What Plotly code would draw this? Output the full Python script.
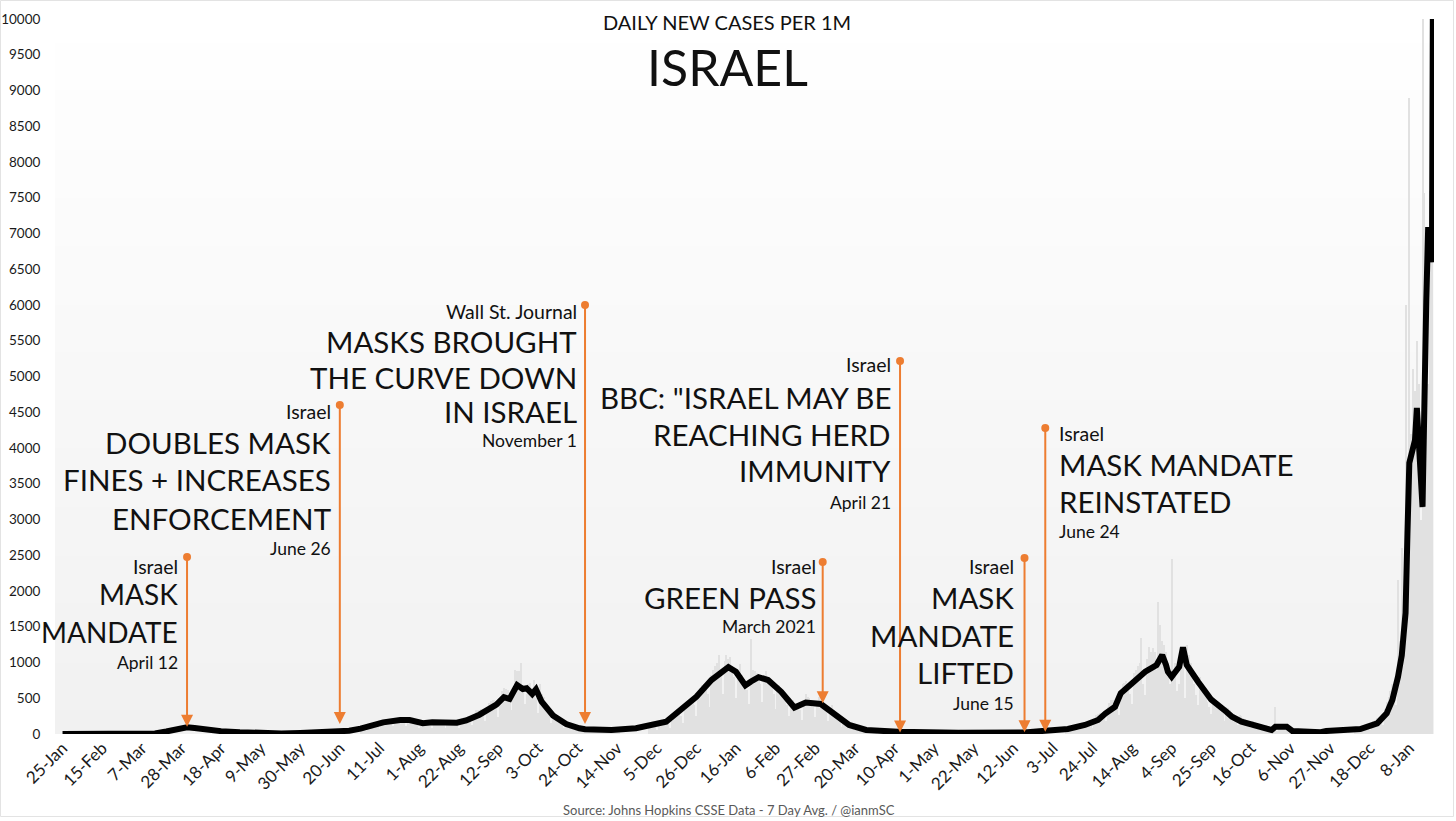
import plotly.graph_objects as go
import pandas as pd

# ---------------- DATA ----------------
# 7-day average of daily new cases per 1M (black line)
avg_dates = [
    "2020-01-25", "2020-02-15", "2020-03-07", "2020-03-14", "2020-03-20", "2020-03-26",
    "2020-03-31", "2020-04-04", "2020-04-10", "2020-04-18", "2020-04-28", "2020-05-09",
    "2020-05-20", "2020-05-30", "2020-06-10", "2020-06-20", "2020-06-25", "2020-07-01",
    "2020-07-04", "2020-07-13", "2020-07-22", "2020-07-27", "2020-08-03", "2020-08-08",
    "2020-08-21", "2020-08-26", "2020-09-02", "2020-09-11", "2020-09-15", "2020-09-18",
    "2020-09-22", "2020-09-25", "2020-09-27", "2020-09-30", "2020-10-02", "2020-10-05",
    "2020-10-11", "2020-10-18", "2020-10-25", "2020-10-28", "2020-11-11", "2020-11-24",
    "2020-12-10", "2020-12-17", "2020-12-26", "2021-01-03", "2021-01-12", "2021-01-16",
    "2021-01-21", "2021-01-24", "2021-01-28", "2021-02-02", "2021-02-09", "2021-02-16",
    "2021-02-22", "2021-03-02", "2021-03-10", "2021-03-17", "2021-03-26", "2021-04-12",
    "2021-05-14", "2021-06-18", "2021-06-29", "2021-07-11", "2021-07-20", "2021-07-27",
    "2021-07-31", "2021-08-05", "2021-08-08", "2021-08-10", "2021-08-14", "2021-08-16",
    "2021-08-21", "2021-08-27", "2021-08-30", "2021-09-01", "2021-09-02", "2021-09-04",
    "2021-09-08", "2021-09-10", "2021-09-12", "2021-09-18", "2021-09-25", "2021-10-03",
    "2021-10-06", "2021-10-11", "2021-10-20", "2021-10-27", "2021-10-29", "2021-11-04",
    "2021-11-07", "2021-11-22", "2021-11-25", "2021-12-13", "2021-12-22", "2021-12-27",
    "2021-12-30", "2021-12-31", "2022-01-01", "2022-01-02", "2022-01-03", "2022-01-04",
    "2022-01-05", "2022-01-06", "2022-01-07", "2022-01-08", "2022-01-11", "2022-01-12",
    "2022-01-15", "2022-01-16", "2022-01-17", "2022-01-18", "2022-01-20", "2022-01-21",
]
avg_values = [
    0, 0, 2, 8, 35, 75,
    95, 85, 60, 40, 25, 12,
    8, 15, 25, 40, 45, 75,
    100, 163, 196, 196, 150, 163,
    158, 190, 270, 410, 515, 490,
    685, 630, 640, 560, 625, 452,
    260, 140, 80, 66, 56, 80,
    172, 320, 520, 755, 935, 870,
    680, 735, 795, 755, 590, 370,
    440, 420, 266, 126, 56, 30,
    18, 20, 46, 70, 126, 196,
    289, 382, 570, 615, 732, 755,
    871, 965, 1105, 965, 871, 801,
    941, 1212, 965, 732, 480, 312,
    242, 172, 102, 56, 102, 102,
    42, 24, 42, 70, 150, 289,
    475, 560, 657, 800, 950, 1100,
    1400, 1692, 2800, 3790, 4110, 4560,
    3175, 5000, 6070, 7090, 6600, 14000,
]

# Raw daily values (light grey bars), four visible stretches
daily1_start = "2020-07-01"
daily1 = [
    90, 100, 70, 40, 110, 130, 140,
    150, 160, 120, 70, 170, 200, 210,
    200, 210, 170, 110, 200, 230, 230,
    220, 230, 180, 110, 210, 230, 220,
    190, 200, 150, 80, 160, 190, 180,
    180, 190, 150, 80, 170, 190, 190,
    180, 180, 140, 80, 170, 200, 190,
    180, 190, 150, 90, 190, 230, 240,
    240, 250, 200, 120, 260, 330, 340,
    340, 350, 280, 180, 350, 440, 460,
    470, 480, 400, 240, 480, 600, 640,
    630, 620, 500, 330, 620, 900, 880,
    880, 1000, 600, 420, 560, 700, 720,
    650, 760, 500, 300, 700, 560, 520,
    400, 360, 280, 160, 300, 300, 260,
    220, 200, 160, 80, 170, 160, 150,
    120, 110, 90, 50, 90, 100, 90,
    80, 80, 70, 40, 70, 80, 80,
    70, 70, 60, 30, 60, 70, 70,
    70, 70, 60, 30, 60,
]
daily2_start = "2020-12-01"
daily2 = [
    110, 120, 130, 110, 60, 120, 150,
    170, 180, 180, 150, 90, 180, 220,
    260, 280, 300, 250, 150, 330, 400,
    430, 460, 480, 400, 250, 530, 650,
    680, 700, 720, 560, 380, 820, 900,
    950, 1000, 1100, 820, 560, 1020, 1100,
    1050, 1080, 950, 800, 500, 900, 980,
    820, 780, 720, 620, 420, 1330, 900,
    880, 850, 820, 700, 450, 820, 880,
    800, 760, 700, 560, 350, 620, 680,
    600, 560, 500, 400, 250, 420, 470,
    440, 420, 400, 330, 200, 480, 560,
    520, 500, 460, 380, 240, 460, 520,
    480, 440, 400, 320, 180, 360, 400,
    330, 280, 240, 190, 100, 170, 180,
    150, 140, 120, 90, 50, 90, 100,
    80, 75, 70, 50, 30, 50, 60,
    50, 45,
]
daily3_start = "2021-07-10"
daily3 = [
    40, 80, 100, 110, 110, 100, 80,
    60, 130, 160, 170, 160, 150, 120,
    90, 220, 260, 280, 300, 280, 220,
    180, 380, 440, 470, 480, 450, 360,
    260, 600, 700, 720, 740, 700, 560,
    420, 850, 900, 950, 1000, 1340, 700,
    550, 1050, 1220, 1150, 1200, 1150, 900,
    1850, 1520, 1300, 1250, 1150, 800, 700,
    2450, 900, 1000, 600, 700, 1150, 1000,
    500, 1250, 1100, 1000, 900, 700, 550,
    400, 800, 700, 650, 550, 450, 380,
    280, 500, 480, 450, 400, 360, 300,
    180, 380, 360, 330, 300, 270, 220,
    130, 260, 250, 230, 210, 190, 150,
    90, 180, 170, 160, 150, 130, 100,
    60, 120, 110, 100, 90, 80, 380,
    40, 110, 100, 100, 95, 90, 70,
    30, 60, 55, 50, 50, 45, 35,
    20, 40, 45,
]
daily4_start = "2021-12-10"
daily4 = [
    50, 30, 70, 90, 100, 110, 110,
    90, 60, 150, 180, 200, 220, 240,
    200, 130, 350, 450, 520, 600, 700,
    600, 400, 2150, 1300, 2600, 1950, 6000,
    3500, 8900, 4200, 5100, 4800, 5500, 4900,
    3000, 10500, 7570, 6500, 4900, 7600, 10500,
]

# x-axis tick labels (every 21 days)
tick_dates = [
    "2020-01-25", "2020-02-15", "2020-03-07", "2020-03-28", "2020-04-18", "2020-05-09",
    "2020-05-30", "2020-06-20", "2020-07-11", "2020-08-01", "2020-08-22", "2020-09-12",
    "2020-10-03", "2020-10-24", "2020-11-14", "2020-12-05", "2020-12-26", "2021-01-16",
    "2021-02-06", "2021-02-27", "2021-03-20", "2021-04-10", "2021-05-01", "2021-05-22",
    "2021-06-12", "2021-07-03", "2021-07-24", "2021-08-14", "2021-09-04", "2021-09-25",
    "2021-10-16", "2021-11-06", "2021-11-27", "2021-12-18", "2022-01-08",
]
tick_labels = [
    "25-Jan", "15-Feb", "7-Mar", "28-Mar", "18-Apr", "9-May", "30-May", "20-Jun",
    "11-Jul", "1-Aug", "22-Aug", "12-Sep", "3-Oct", "24-Oct", "14-Nov", "5-Dec",
    "26-Dec", "16-Jan", "6-Feb", "27-Feb", "20-Mar", "10-Apr", "1-May", "22-May",
    "12-Jun", "3-Jul", "24-Jul", "14-Aug", "4-Sep", "25-Sep", "16-Oct", "6-Nov",
    "27-Nov", "18-Dec", "8-Jan",
]

# Event markers (orange arrows): date, top of arrow, tip of arrow
event_dates = ["2020-03-31", "2020-06-20", "2020-10-28", "2021-03-03",
               "2021-04-13", "2021-06-18", "2021-06-29"]
event_tops = [2475, 4600, 6000, 2405, 5217, 2461, 4280]
event_tips = [100, 140, 140, 430, 20, 25, 30]

# Event text blocks
event_texts = [
    [("Israel", "s"), ("MASK", "L"), ("MANDATE", "L"), ("April 12", "d")],
    [("Israel", "s"), ("DOUBLES MASK", "L"), ("FINES + INCREASES", "L"),
     ("ENFORCEMENT", "L"), ("June 26", "d")],
    [("Wall St. Journal", "s"), ("MASKS BROUGHT", "L"), ("THE CURVE DOWN", "L"),
     ("IN ISRAEL", "L"), ("November 1", "d")],
    [("Israel", "s"), ("GREEN PASS", "L"), ("March 2021", "d")],
    [("Israel", "s"), ("BBC: \"ISRAEL MAY BE", "L"), ("REACHING HERD", "L"),
     ("IMMUNITY", "L"), ("April 21", "d")],
    [("Israel", "s"), ("MASK", "L"), ("MANDATE", "L"), ("LIFTED", "L"), ("June 15", "d")],
    [("Israel", "s"), ("MASK MANDATE", "L"), ("REINSTATED", "L"), ("June 24", "d")],
]

# ---------------- LAYOUT HELPERS (pixel placement) ----------------
W, H = 1456, 821
PL, PR, PT, PB = 55, 1434, 19, 734   # plot area in pixels
FONT = "Lato"
ORANGE = "#ED7D31"


def px_x(x):
    return (x - PL) / (PR - PL)


def px_y(y):
    return (PB - y) / (PB - PT)


fig = go.Figure()

# daily bars
for start, vals in [(daily1_start, daily1), (daily2_start, daily2),
                    (daily3_start, daily3), (daily4_start, daily4)]:
    fig.add_trace(go.Bar(
        x=pd.date_range(start, periods=len(vals), freq="D"), y=vals,
        marker=dict(color="#e1e1e1", line=dict(width=0)),
        width=0.55 * 86400000, hoverinfo="skip", showlegend=False,
    ))

# 7-day average line
fig.add_trace(go.Scatter(
    x=avg_dates, y=avg_values, mode="lines",
    line=dict(color="#000000", width=6), showlegend=False,
))

# event arrows
annotations = []
for d, top, tip in zip(event_dates, event_tops, event_tips):
    annotations.append(dict(
        x=d, y=tip, ax=d, ay=top, xref="x", yref="y", axref="x", ayref="y",
        showarrow=True, arrowhead=2, arrowsize=1.2, arrowwidth=2,
        arrowcolor=ORANGE, standoff=0, text="",
    ))
fig.add_trace(go.Scatter(
    x=event_dates, y=event_tops, mode="markers",
    marker=dict(color=ORANGE, size=8), showlegend=False, cliponaxis=False,
))

# text blocks: (x edge px, anchor, [y px per line], big-font size)
block_pos = [
    (180, "right", [566, 594, 632, 662], 28),
    (333, "right", [411, 442, 480, 518, 548], 29.5),
    (579, "right", [311, 341, 377, 411, 440], 29.5),
    (818, "right", [566, 597, 626], 29.5),
    (893, "right", [365, 397, 434, 471, 502], 29.5),
    (1016, "right", [566, 597, 635, 672, 703], 29.5),
    (1057, "left", [433, 464, 501, 531], 29.5),
]
for (xe, anchor, ys, big), lines in zip(block_pos, event_texts):
    sizes = {"s": 19.5, "L": big, "d": 17.5}
    for (txt, kind), ypx in zip(lines, ys):
        annotations.append(dict(
            x=px_x(xe), y=px_y(ypx), xref="paper", yref="paper",
            xanchor=anchor, yanchor="middle", showarrow=False, text=txt,
            font=dict(family=FONT, size=sizes[kind], color="#111111"),
        ))

# titles and source
annotations.append(dict(x=px_x(727), y=px_y(22), xref="paper", yref="paper",
                        text="DAILY NEW CASES PER 1M", showarrow=False,
                        font=dict(family=FONT, size=20, color="#111111"),
                        xanchor="center", yanchor="middle"))
annotations.append(dict(x=px_x(727), y=px_y(67), xref="paper", yref="paper",
                        text="ISRAEL", showarrow=False,
                        font=dict(family=FONT, size=50, color="#111111"),
                        xanchor="center", yanchor="middle"))
annotations.append(dict(x=px_x(729), y=px_y(810), xref="paper", yref="paper",
                        text="Source: Johns Hopkins CSSE Data - 7 Day Avg. / @ianmSC",
                        showarrow=False,
                        font=dict(family=FONT, size=13, color="#595959"),
                        xanchor="center", yanchor="middle"))

# gradient background for plot area + outer frame
shapes = []
n = 60
for i in range(n):
    lvl = round(241 + 14 * (i + 0.5) / n)
    shapes.append(dict(type="rect", xref="paper", yref="paper",
                       x0=0, x1=1, y0=i / n, y1=(i + 1) / n + 0.001,
                       fillcolor=f"rgb({lvl},{lvl},{lvl})",
                       line=dict(width=0), layer="below"))
shapes.append(dict(type="rect", xref="paper", yref="paper",
                   x0=px_x(0.5), x1=px_x(1453.5), y0=px_y(816.5), y1=px_y(0.5),
                   line=dict(color="#e3e3e3", width=1), fillcolor="rgba(0,0,0,0)",
                   layer="above"))

fig.update_layout(
    width=W, height=H,
    margin=dict(l=PL, r=W - PR, t=PT, b=H - PB, autoexpand=False),
    paper_bgcolor="white", plot_bgcolor="white",
    barmode="overlay", bargap=0,
    font=dict(family=FONT, color="#1a1a1a"),
    annotations=annotations, shapes=shapes,
    showlegend=False,
    xaxis=dict(type="date", range=["2020-01-21", "2022-01-21 02:00"],
               tickvals=tick_dates, ticktext=tick_labels, tickangle=-45,
               tickfont=dict(family=FONT, size=17, color="#1a1a1a"),
               showgrid=False, zeroline=False, showline=False, ticks="",
               automargin=False),
    yaxis=dict(range=[0, 10000], dtick=500, tick0=0, tickformat="d",
               tickfont=dict(family=FONT, size=13.5, color="#1a1a1a"),
               showgrid=False, zeroline=False, showline=False,
               ticks="outside", ticklen=11, tickcolor="rgba(0,0,0,0)",
               automargin=False),
)

fig.write_html("out.html", config={"displayModeBar": False},
               post_script="document.body.style.margin='0px';")
